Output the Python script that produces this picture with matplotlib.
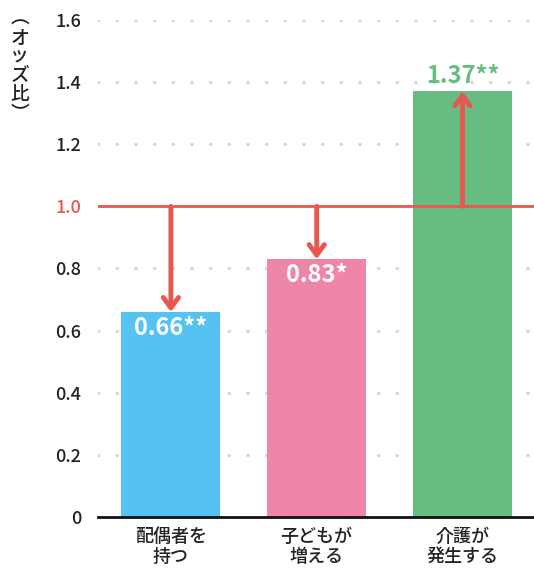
import matplotlib.pyplot as plt

plt.rcParams['font.family'] = ['Noto Sans CJK JP', 'DejaVu Sans']

# オッズ比のデータ
categories = ['配偶者を\n持つ', '子どもが\n増える', '介護が\n発生する']
odds = [0.66, 0.83, 1.37]
value_labels = ['0.66**', '0.83*', '1.37**']
bar_colors = ['#56c2f1', '#ee87a7', '#67bd81']
yticks = [0, 0.2, 0.4, 0.6, 0.8, 1.0, 1.2, 1.4, 1.6]
ytick_labels = ['0', '0.2', '0.4', '0.6', '0.8', '1.0', '1.2', '1.4', '1.6']
baseline = 1.0

red = '#e8574f'

fig = plt.figure(figsize=(5.34, 5.78), dpi=100)
ax = fig.add_axes([0.1835, 0.1055, 0.8165, 0.86])

x = list(range(len(categories)))

# dotted gridlines behind the bars
for t in yticks[1:]:
    if t == baseline:
        continue
    ax.axhline(t, color='#d5d5d5', lw=2.4, linestyle=(0, (0.1, 5.5)),
               dash_capstyle='round', zorder=0)

ax.bar(x, odds, width=0.68, color=bar_colors, zorder=2)

# reference line at 1.0
ax.axhline(baseline, color=red, lw=2, zorder=3)

# arrows from 1.0 to each bar top
for xi, v in zip(x, odds):
    ax.annotate('', xy=(xi, v), xytext=(xi, baseline),
                arrowprops=dict(arrowstyle='->,head_length=0.75,head_width=0.55',
                                color=red, lw=3.5, shrinkA=0, shrinkB=0),
                zorder=4)

# value labels
ax.text(x[0], odds[0] - 0.012, value_labels[0], ha='center', va='top', color='white',
        fontsize=17, fontweight='bold', zorder=5)
ax.text(x[1], odds[1] - 0.012, value_labels[1], ha='center', va='top', color='white',
        fontsize=17, fontweight='bold', zorder=5)
ax.text(x[2], odds[2] + 0.012, value_labels[2], ha='center', va='bottom', color=bar_colors[2],
        fontsize=17, fontweight='bold', zorder=5)

ax.set_xlim(-0.5, 2.49)
ax.set_ylim(0, 1.6)
ax.set_yticks(yticks)
ax.set_yticklabels(ytick_labels, fontsize=13, color='#222222', fontweight='medium')
ax.get_yticklabels()[yticks.index(baseline)].set_color(red)
ax.set_xticks(x)
ax.set_xticklabels(categories, fontsize=13, color='#222222', linespacing=1.15,
                   fontweight='medium')
ax.tick_params(axis='both', length=0)
ax.tick_params(axis='y', pad=12)
ax.tick_params(axis='x', pad=8)

for s in ['top', 'right', 'left']:
    ax.spines[s].set_visible(False)
ax.spines['bottom'].set_linewidth(2)
ax.spines['bottom'].set_color('#111111')
ax.spines['bottom'].set_zorder(6)

# vertical axis title
fig.text(0.037, 0.985, '\n'.join('︵オッズ比︶'), ha='center', va='top',
         fontsize=13.5, color='#222222', linespacing=1.0, fontweight='medium')

fig.savefig('out.png', dpi=100)
